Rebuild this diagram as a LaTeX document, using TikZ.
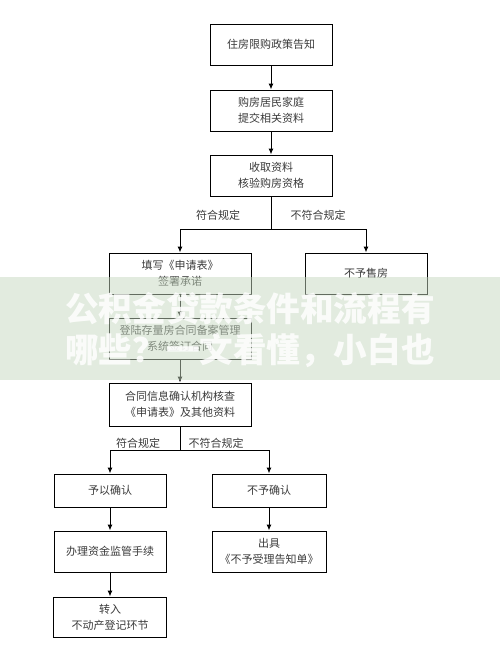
\documentclass[tikz,border=0pt]{standalone}
\usepackage{fontspec}
\setmainfont{Noto Sans CJK SC}
\newfontfamily\markfont{Noto Sans CJK SC}
\usetikzlibrary{arrows.meta}
\definecolor{boxtext}{HTML}{3A3A3A}
\definecolor{bandgreen}{RGB}{198,216,192}

\begin{document}
\begin{tikzpicture}[x=1pt,y=-1pt,
  box/.style={draw, line width=1pt, minimum width=#1, minimum height=41pt,
    inner sep=0pt, align=center, text=boxtext, font=\fontsize{11}{16}\selectfont},
  box/.default=122pt,
  arr/.style={-{Latex[length=6pt,width=5pt]}, line width=1pt},
  lbl/.style={text=boxtext, font=\fontsize{11}{13}\selectfont},
  wmark/.style={text=white, opacity=0.85, font=\markfont\bfseries\fontsize{33.6}{40}\selectfont}]
\useasboundingbox (0,0) rectangle (500,659);
% upper column
\node[box] (notice) at (271,44.5) {住房限购政策告知};
\node[box] (submit) at (271,110.5) {购房居民家庭\\提交相关资料};
\node[box] (check) at (271,175.5) {收取资料\\核验购房资格};
\node[box=142pt] (fill) at (180,273.5) {填写《申请表》\\签署承诺};
\node[box] (refuse) at (366,273.5) {不予售房};
\node[box=142pt] (login) at (180,338.5) {登陆存量房合同备案管理\\系统签订合同};
\node[box=142pt, minimum height=43pt] (verify) at (180,404.5) {合同信息确认机构核查\\《申请表》及其他资料};
% lower branches
\node[box=112pt, minimum height=33pt] (confirm) at (110,490.5) {予以确认};
\node[box=114pt, minimum height=33pt] (deny) at (269,490.5) {不予确认};
\node[box=112pt] (fund) at (110,551.5) {办理资金监管手续};
\node[box=114pt] (issue) at (269,551.5) {出具\\《不予受理告知单》};
\node[box=113pt, minimum height=40pt] (transfer) at (110,617) {转入\\不动产登记环节};

\draw[arr] (notice) -- (submit);
\draw[arr] (submit) -- (check);
\coordinate (split1) at (271,229);
\draw[line width=1pt] (check) -- (split1);
\draw[arr] (split1) -| (fill);
\draw[arr] (split1) -| (refuse);
\node[lbl] (ok1) at (218,215) {符合规定};
\node[lbl] (no1) at (318,215) {不符合规定};
\draw[arr] (fill) -- (login);
\draw[arr] (login) -- (verify);
\coordinate (split2) at (180,450);
\draw[line width=1pt] (verify) -- (split2);
\draw[arr] (split2) -| (confirm);
\draw[arr] (split2) -| (deny);
\node[lbl] (ok2) at (138,443) {符合规定};
\node[lbl] (no2) at (216,443) {不符合规定};
\draw[arr] (confirm) -- (fund);
\draw[arr] (fund) -- (transfer);
\draw[arr] (deny) -- (issue);

% watermark band
\fill[bandgreen, opacity=0.5] (0,277) rectangle (500,380);
\node[wmark] (mark1) at (250,309) {公积金贷款条件和流程有};
\node[wmark] (mark2) at (250,351) {哪些？一文看懂，小白也};
\end{tikzpicture}
\end{document}
